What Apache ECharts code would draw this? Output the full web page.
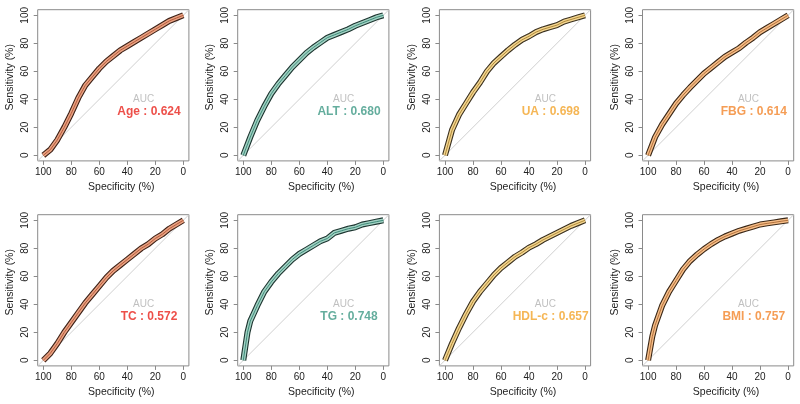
<!DOCTYPE html>
<html><head><meta charset="utf-8">
<script src="https://cdn.jsdelivr.net/npm/echarts@6/dist/echarts.min.js"></script>
<style>html,body{margin:0;padding:0;background:#fff}#c{width:800px;height:404px}</style>
</head><body><div id="c"></div>
<script>
// ---- data ----
const markers = ['Age', 'ALT', 'UA', 'FBG', 'TC', 'TG', 'HDL-c', 'BMI'];
const aucValues = ['0.624', '0.680', '0.698', '0.614', '0.572', '0.748', '0.657', '0.757'];
const ticks = [0, 20, 40, 60, 80, 100];
// [specificity %, sensitivity %]
const ageRoc = [[100,0],[95,4],[90,11],[85,20],[80,30],[75,41],[70,50],[65,56],[60,62],[55,67],[50,71],[45,75],[40,78],[35,81],[30,84],[25,87],[20,90],[15,93],[10,96],[5,98],[0,100]];
const altRoc = [[100,0],[95,13],[90,25],[85,35],[80,44],[75,51],[70,57],[65,63],[60,68],[55,73],[50,77],[45,80.5],[40,84],[35,86],[30,88],[25,90],[20,92.5],[15,94.5],[10,96.5],[5,98.5],[0,100]];
const uaRoc = [[100,0],[95,18],[90,29],[85,37],[80,45],[75,52],[70,60],[65,66],[60,70.5],[55,75],[50,79],[45,82.5],[40,85],[35,88],[30,90],[25,91.5],[20,93],[15,95.5],[10,97],[5,98.5],[0,100]];
const fbgRoc = [[100,0],[95,13],[90,22],[85,29.5],[80,37],[75,43],[70,48.5],[65,53.5],[60,58.5],[55,62.5],[50,66.5],[45,70.5],[40,73.5],[35,76.5],[30,80.5],[25,84],[20,88],[15,91],[10,94],[5,97],[0,100]];
const tcRoc = [[100,0],[95,5],[90,12],[85,20],[80,27],[75,34],[70,41],[65,47],[60,53],[55,59],[50,64],[45,68],[40,72],[35,76],[30,80],[25,83],[20,87],[15,90],[10,94],[5,97],[0,100]];
const tgRoc = [[100,0],[97,20],[95,28],[90,39],[85,49],[80,56],[75,62],[70,67],[65,72],[60,76],[55,79],[50,82],[45,85],[40,87],[35,91],[30,92.5],[25,94],[20,95],[15,97],[10,98],[5,99],[0,100]];
const hdlRoc = [[100,0],[95,12],[90,23],[85,33],[80,42],[75,49],[70,55],[65,61],[60,66],[55,70],[50,74],[45,77],[40,80.5],[35,83],[30,86],[25,88.5],[20,91],[15,93.5],[10,96],[5,98],[0,100]];
const bmiRoc = [[100,0],[97,17],[95,25],[90,39],[85,49],[80,57],[75,65],[70,71],[65,75.5],[60,79.5],[55,83],[50,86],[45,88.5],[40,90.5],[35,92.5],[30,94],[25,95.5],[20,97],[15,97.8],[10,98.5],[5,99.3],[0,100]];
const rocCurves = [ageRoc, altRoc, uaRoc, fbgRoc, tcRoc, tgRoc, hdlRoc, bmiRoc];
const diagonal = [[104,-4],[-4,104]];
const aucTitlePos = [28.3, 40.2];
const aucValuePos = [24.5, 31];

// ---- styles ----
const palettes = {
  red:    {edge:'#3e2218', fill:'#eaa282', mid:'#b25a3c', text:'#e8231b'},
  teal:   {edge:'#1d3530', fill:'#a2d2c4', mid:'#3f8a78', text:'#3d9984'},
  yellow: {edge:'#3b3120', fill:'#f4d690', mid:'#b08a3c', text:'#f2a42a'},
  orange: {edge:'#3b2818', fill:'#f7be88', mid:'#b0703c', text:'#f2842a'}
};
const panelPalette = ['red','teal','yellow','orange','red','teal','yellow','orange'];
const lefts = [37.7, 237.7, 439.4, 642.5];
const tops = [9.7, 214.7];
const boxSize = 151.2;
const FONT = 'Liberation Sans, Arial, sans-serif';

const grids = [], xAxes = [], yAxes = [], series = [];
markers.forEach((m, i) => {
  const col = i % 4, row = Math.floor(i / 4);
  const pal = palettes[panelPalette[i]];
  grids.push({left: lefts[col], top: tops[row], width: boxSize, height: boxSize,
    show: true, borderColor: '#8a8a8a', borderWidth: 1, backgroundColor: 'transparent',
    containLabel: false, outerBoundsMode: 'none'});
  xAxes.push({gridIndex: i, type: 'value', min: -4, max: 104, inverse: true,
    axisLine: {show: false, onZero: false},
    splitLine: {show: false},
    axisTick: {show: true, customValues: ticks, length: 4, lineStyle: {color: '#8a8a8a'}},
    axisLabel: {customValues: ticks, margin: 6, fontSize: 10, color: '#222', fontFamily: FONT},
    name: 'Specificity (%)', nameLocation: 'middle', nameGap: 21,
    nameTextStyle: {fontSize: 10.5, color: '#222', fontFamily: FONT, padding: [0, 0, 0, 16]}
  });
  yAxes.push({gridIndex: i, type: 'value', min: -4, max: 104,
    axisLine: {show: false, onZero: false},
    splitLine: {show: false},
    axisTick: {show: true, customValues: ticks, length: 4, lineStyle: {color: '#8a8a8a'}},
    axisLabel: {customValues: ticks, margin: 7, fontSize: 10, color: '#222', rotate: 90, fontFamily: FONT},
    name: 'Sensitivity (%)', nameLocation: 'middle', nameGap: 22, nameRotate: 90,
    nameTextStyle: {fontSize: 10.5, color: '#222', fontFamily: FONT, padding: [0, 0, 0, 16]}
  });
  const base = {type: 'line', xAxisIndex: i, yAxisIndex: i, symbol: 'none', silent: true, animation: false};
  series.push(Object.assign({}, base, {data: diagonal, lineStyle: {color: '#cfcfcf', width: 1}, z: 1}));
  series.push(Object.assign({}, base, {data: rocCurves[i], lineStyle: {color: pal.edge, width: 6, cap: 'butt', join: 'round'}, z: 2}));
  series.push(Object.assign({}, base, {data: rocCurves[i], lineStyle: {color: pal.fill, width: 3.8, cap: 'butt', join: 'round'}, z: 3}));
  series.push(Object.assign({}, base, {data: rocCurves[i], lineStyle: {color: pal.mid, width: 1, cap: 'butt', join: 'round'}, z: 4}));
  series.push({type: 'scatter', xAxisIndex: i, yAxisIndex: i, silent: true, animation: false,
    symbolSize: 0, itemStyle: {color: 'transparent'}, z: 5,
    label: {show: true, position: 'inside', fontFamily: FONT},
    data: [
      {value: aucTitlePos, label: {formatter: 'AUC', color: '#b0b0b0', fontSize: 10}},
      {value: aucValuePos, label: {formatter: m + ' : ' + aucValues[i], color: pal.text, fontSize: 12, fontWeight: 'bold'}}
    ]});
});

const chart = echarts.init(document.getElementById('c'), null, {renderer: 'canvas'});
chart.setOption({animation: false, backgroundColor: '#fff', grid: grids, xAxis: xAxes, yAxis: yAxes, series: series});
</script></body></html>
